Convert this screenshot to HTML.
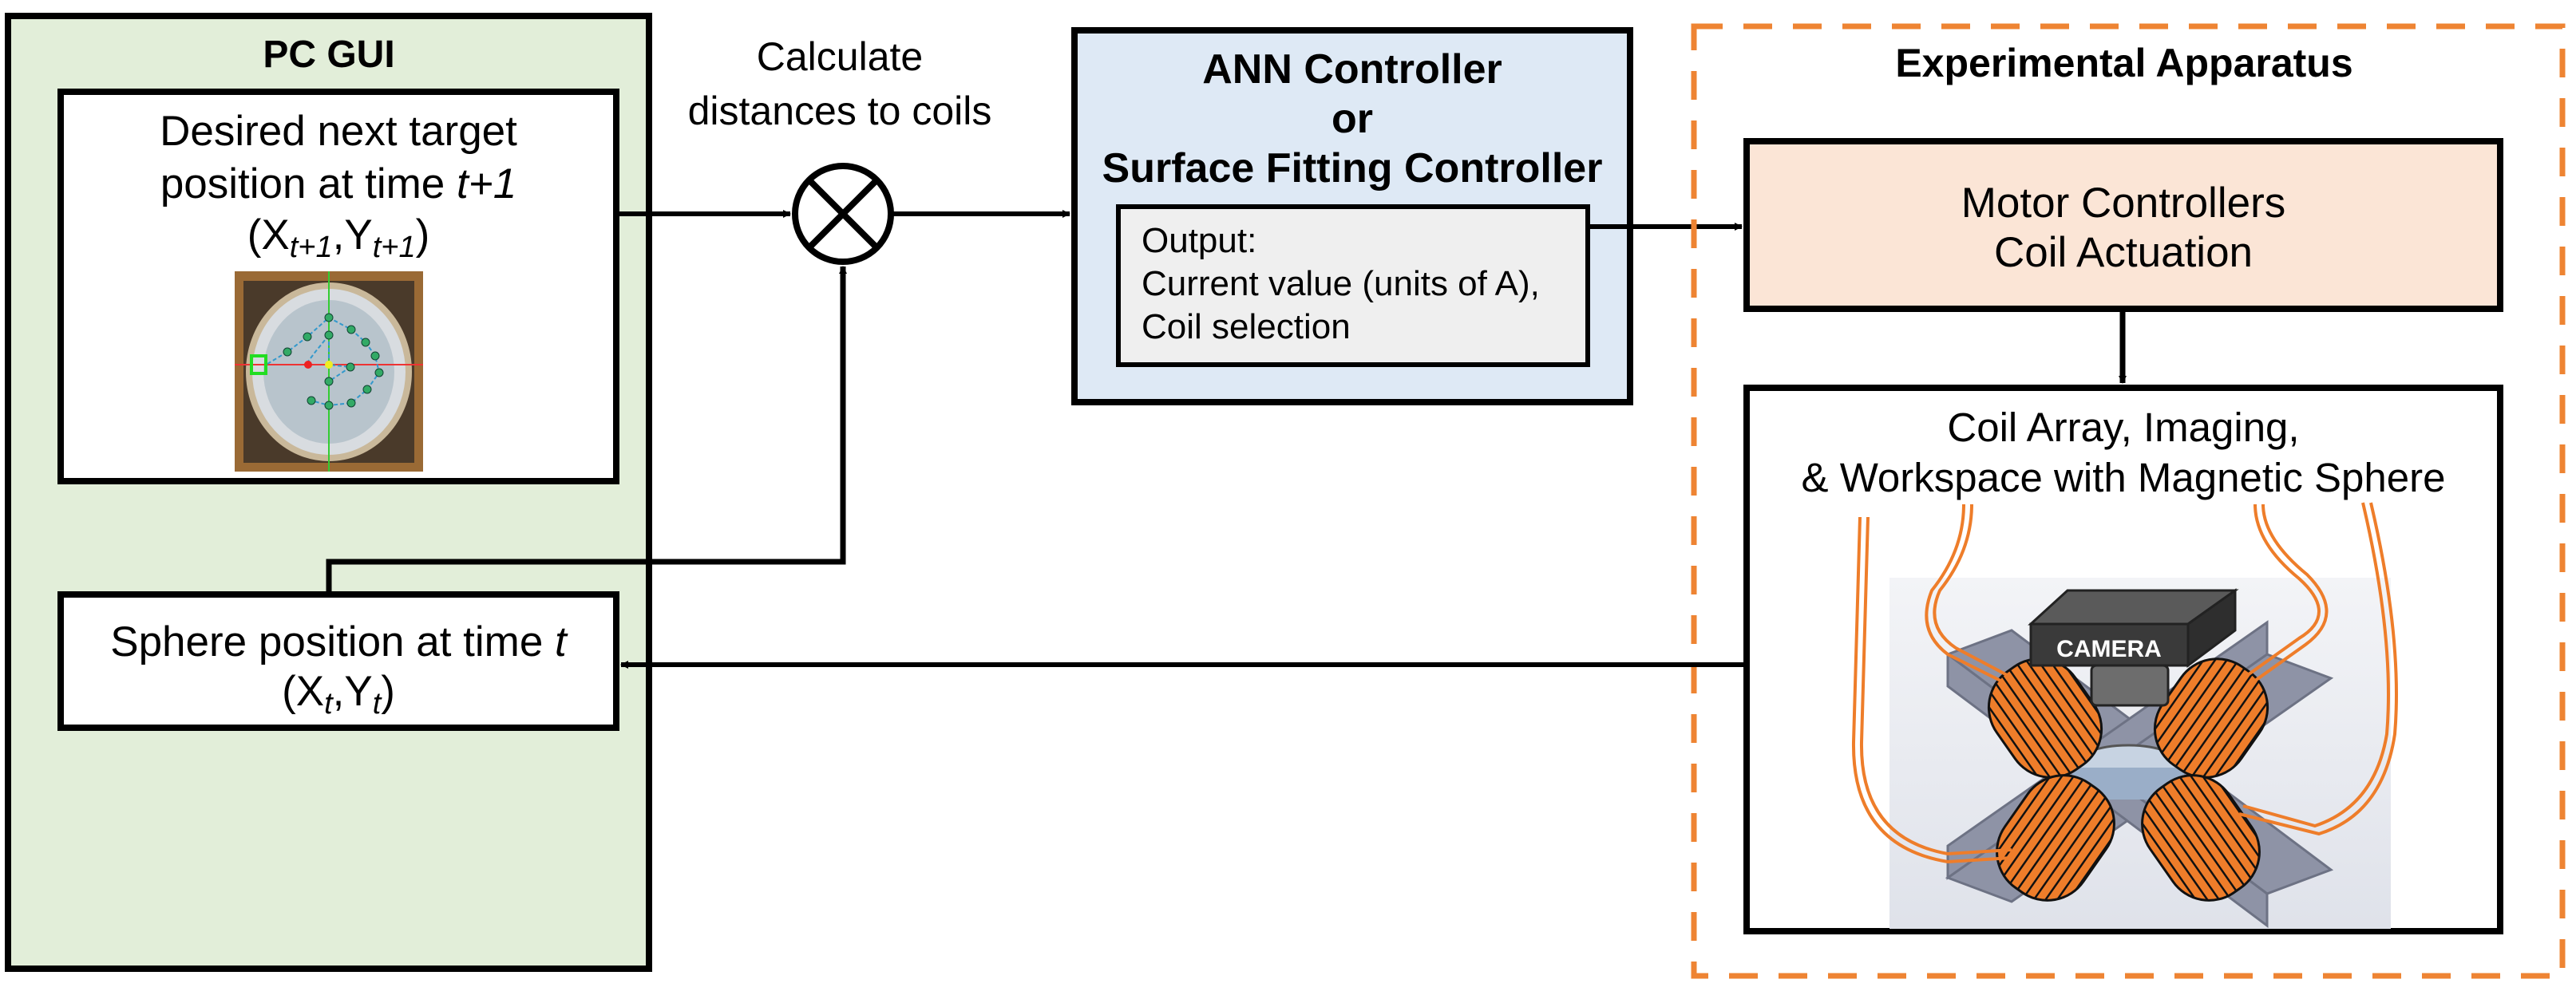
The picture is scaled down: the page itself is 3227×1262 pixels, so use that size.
<!DOCTYPE html>
<html><head><meta charset="utf-8"><style>
body{margin:0;background:#fff;}
svg{display:block}
text{font-family:"Liberation Sans",Arial,sans-serif;fill:#000}
</style></head><body>
<svg width="3227" height="1262" viewBox="0 0 3227 1262" xmlns="http://www.w3.org/2000/svg">
<defs>
<marker id="ah" markerWidth="10" markerHeight="10" refX="9" refY="5" orient="auto" markerUnits="userSpaceOnUse" viewBox="0 0 10 10">
<path d="M0,0 L10,5 L0,10 z" fill="#000"/></marker>
<pattern id="coil" width="12" height="12" patternUnits="userSpaceOnUse">
<rect width="12" height="12" fill="#ee7d2a"/><rect x="9" width="2.5" height="12" fill="#111"/></pattern>
<linearGradient id="bg" x1="0" y1="0" x2="0" y2="1"><stop offset="0" stop-color="#f3f4f7"/><stop offset="1" stop-color="#dfe2ea"/></linearGradient>
</defs>

<!-- PC GUI -->
<rect x="10" y="20" width="803" height="1194" fill="#e2eed9" stroke="#000" stroke-width="8"/>
<text x="412" y="84" font-size="48" font-weight="bold" text-anchor="middle">PC GUI</text>
<rect x="76" y="115" width="696" height="488" fill="#fff" stroke="#000" stroke-width="8"/>
<text x="424" y="182" font-size="53" text-anchor="middle">Desired next target</text>
<text x="424" y="248" font-size="53" text-anchor="middle">position at time <tspan font-style="italic">t+1</tspan></text>
<text x="424" y="312" font-size="53" text-anchor="middle">(X<tspan font-size="38" font-style="italic" dy="10">t+1</tspan><tspan dy="-10">,Y</tspan><tspan font-size="38" font-style="italic" dy="10">t+1</tspan><tspan dy="-10">)</tspan></text>
<!-- GUI image -->
<rect x="294" y="340" width="236" height="251" fill="#9a6a35"/>
<rect x="305" y="352" width="214" height="228" fill="#4a3a2a"/>
<ellipse cx="412" cy="466" rx="100" ry="108" fill="#d8dce0" stroke="#c9b89a" stroke-width="8"/>
<ellipse cx="412" cy="466" rx="82" ry="90" fill="#b8c4cc"/>
<line x1="294" y1="457" x2="530" y2="457" stroke="#e33" stroke-width="2"/>
<line x1="412" y1="340" x2="412" y2="591" stroke="#3c3" stroke-width="2"/>
<path d="M335,456 L360,441 L385,422 L412,398 L440,413 L458,429 L470,446 L475,467 L460,488 L440,505 L412,508 L390,502 M412,420 L395,441 L383,457 M412,420 L412,457 L439,460 L412,478" fill="none" stroke="#39c" stroke-width="2" stroke-dasharray="5,3"/>
<g fill="#3a6" stroke="#143" stroke-width="1">
<circle cx="360" cy="441" r="5"/><circle cx="385" cy="422" r="5"/><circle cx="412" cy="398" r="5"/><circle cx="440" cy="413" r="5"/><circle cx="458" cy="429" r="5"/><circle cx="470" cy="446" r="5"/><circle cx="475" cy="467" r="5"/><circle cx="460" cy="488" r="5"/><circle cx="440" cy="505" r="5"/><circle cx="412" cy="508" r="5"/><circle cx="390" cy="502" r="5"/><circle cx="412" cy="420" r="5"/><circle cx="439" cy="460" r="5"/><circle cx="412" cy="478" r="5"/></g>
<circle cx="386" cy="457" r="5" fill="#e22"/><circle cx="412" cy="457" r="5" fill="#ee2"/>
<rect x="315" y="446" width="18" height="22" fill="none" stroke="#2d2" stroke-width="4"/>

<rect x="76" y="745" width="696" height="167" fill="#fff" stroke="#000" stroke-width="8"/>
<text x="424" y="822" font-size="53" text-anchor="middle">Sphere position at time <tspan font-style="italic">t</tspan></text>
<text x="424" y="884" font-size="53" text-anchor="middle">(X<tspan font-size="38" font-style="italic" dy="10">t</tspan><tspan dy="-10">,Y</tspan><tspan font-size="38" font-style="italic" dy="10">t</tspan><tspan dy="-10">)</tspan></text>

<!-- summing junction -->
<text x="1052" y="88" font-size="50" text-anchor="middle">Calculate</text>
<text x="1052" y="156" font-size="50" text-anchor="middle">distances to coils</text>
<circle cx="1056" cy="268" r="60" fill="#fff" stroke="#000" stroke-width="8"/>
<line x1="1014" y1="226" x2="1098" y2="310" stroke="#000" stroke-width="8"/>
<line x1="1098" y1="226" x2="1014" y2="310" stroke="#000" stroke-width="8"/>
<line x1="772" y1="268" x2="990" y2="268" stroke="#000" stroke-width="6" marker-end="url(#ah)"/>
<polyline points="412,745 412,704 1056,704 1056,334" fill="none" stroke="#000" stroke-width="7" marker-end="url(#ah)"/>
<line x1="1116" y1="268" x2="1340" y2="268" stroke="#000" stroke-width="6" marker-end="url(#ah)"/>

<!-- ANN -->
<rect x="1346" y="38" width="696" height="466" fill="#dee9f5" stroke="#000" stroke-width="8"/>
<text x="1694" y="104" font-size="52" font-weight="bold" text-anchor="middle">ANN Controller</text>
<text x="1694" y="166" font-size="52" font-weight="bold" text-anchor="middle">or</text>
<text x="1694" y="228" font-size="52" font-weight="bold" text-anchor="middle">Surface Fitting Controller</text>
<rect x="1401" y="259" width="588" height="198" fill="#efefef" stroke="#000" stroke-width="6"/>
<text x="1430" y="316" font-size="44">Output:</text>
<text x="1430" y="370" font-size="44">Current value (units of A),</text>
<text x="1430" y="424" font-size="44">Coil selection</text>
<line x1="1989" y1="284" x2="2182" y2="284" stroke="#000" stroke-width="6" marker-end="url(#ah)"/>

<!-- Experimental apparatus -->
<rect x="2122" y="33" width="1088" height="1190" fill="none" stroke="#ee8433" stroke-width="7" stroke-dasharray="36,26"/>
<text x="2661" y="96" font-size="50" font-weight="bold" text-anchor="middle">Experimental Apparatus</text>
<rect x="2188" y="177" width="944" height="210" fill="#fbe5d6" stroke="#000" stroke-width="8"/>
<text x="2660" y="272" font-size="53" text-anchor="middle">Motor Controllers</text>
<text x="2660" y="334" font-size="53" text-anchor="middle">Coil Actuation</text>
<line x1="2659" y1="391" x2="2659" y2="480" stroke="#000" stroke-width="7" marker-end="url(#ah)"/>
<rect x="2188" y="486" width="944" height="681" fill="#fff" stroke="#000" stroke-width="8"/>
<text x="2660" y="553" font-size="51" text-anchor="middle">Coil Array, Imaging,</text>
<text x="2660" y="616" font-size="51" text-anchor="middle">&amp; Workspace with Magnetic Sphere</text>
<line x1="2188" y1="833" x2="778" y2="833" stroke="#000" stroke-width="6" marker-end="url(#ah)"/>

<!-- apparatus illustration -->
<rect x="2367" y="724" width="628" height="440" fill="url(#bg)"/>
<g fill="#8e93a6" stroke="#6d7284" stroke-width="3">
<polygon points="2440,820 2520,790 2920,1090 2840,1120"/>
<polygon points="2440,1100 2520,1130 2920,850 2840,820"/>
<polygon points="2440,820 2440,860 2840,1160 2840,1120"/>
<polygon points="2440,1100 2440,1060 2840,780 2840,820"/>
</g>
<ellipse cx="2666" cy="962" rx="70" ry="28" fill="#c7d3e2" stroke="#555" stroke-width="3"/>
<rect x="2596" y="962" width="140" height="40" fill="#9aaec8"/>
<g stroke="#111" stroke-width="3" fill="url(#coil)">
<rect x="-60" y="-75" width="120" height="150" rx="55" transform="translate(2562,900) rotate(-35)"/>
<rect x="-60" y="-75" width="120" height="150" rx="55" transform="translate(2770,900) rotate(35)"/>
<rect x="-60" y="-80" width="120" height="160" rx="55" transform="translate(2575,1050) rotate(35)"/>
<rect x="-60" y="-80" width="120" height="160" rx="55" transform="translate(2757,1050) rotate(-35)"/>
</g>
<polygon points="2544,782 2590,740 2800,740 2741,782" fill="#5a5a5a" stroke="#222" stroke-width="3"/>
<rect x="2544" y="782" width="197" height="52" fill="#3a3a3a" stroke="#222" stroke-width="3"/>
<polygon points="2741,782 2800,740 2800,790 2741,834" fill="#2e2e2e" stroke="#222" stroke-width="3"/>
<text x="2642" y="823" font-size="30" font-weight="bold" text-anchor="middle" style="fill:#fff">CAMERA</text>
<rect x="2620" y="834" width="96" height="50" rx="6" fill="#6d6d6d" stroke="#222" stroke-width="3"/>
<g fill="none" stroke="#ee7d2a" stroke-width="4">
<path d="M2330,648 L2322,930 Q2320,1060 2440,1080 L2520,1075"/>
<path d="M2340,648 L2332,930 Q2330,1050 2440,1070 L2520,1065"/>
<path d="M2460,632 Q2460,690 2420,740 Q2400,790 2440,820 L2510,855"/>
<path d="M2470,632 Q2470,690 2430,740 Q2410,785 2450,812 L2518,848"/>
<path d="M2825,632 Q2825,680 2880,725 Q2930,770 2880,800 L2810,850"/>
<path d="M2835,632 Q2835,675 2890,720 Q2940,770 2888,808 L2818,858"/>
<path d="M2960,630 Q3000,800 2990,920 Q2975,1010 2900,1035 L2810,1010"/>
<path d="M2970,630 Q3010,800 3000,920 Q2985,1020 2905,1045 L2805,1020"/>
</g>
</svg>
</body></html>
